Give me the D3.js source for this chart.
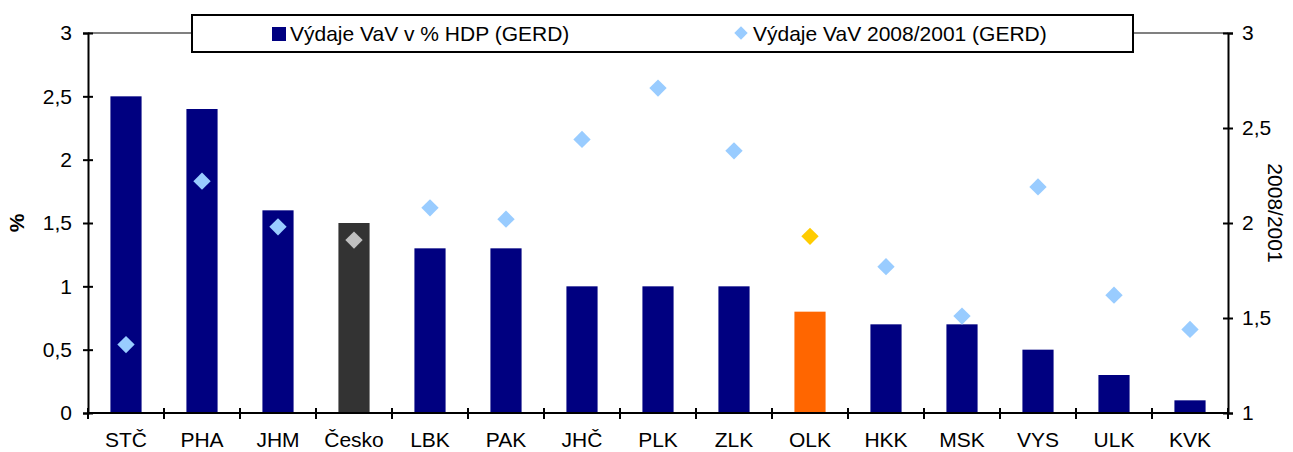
<!DOCTYPE html>
<html>
<head>
<meta charset="utf-8">
<script src="https://cdn.jsdelivr.net/npm/d3@7"></script>
<style>
  html, body { margin: 0; padding: 0; background: #fff; }
  svg { display: block; font-family: "Liberation Sans", Arial, sans-serif; }
</style>
</head>
<body>
<svg id="chart" width="1293" height="452"></svg>
<script>
// Regions (NUTS 3) of the Czech Republic
const regions = ["STČ", "PHA", "JHM", "Česko", "LBK", "PAK", "JHČ", "PLK", "ZLK", "OLK", "HKK", "MSK", "VYS", "ULK", "KVK"];
// R&D expenditure as % of GDP (GERD)
const gerdShare = [2.5, 2.4, 1.6, 1.5, 1.3, 1.3, 1.0, 1.0, 1.0, 0.8, 0.7, 0.7, 0.5, 0.3, 0.1];
// Index of R&D expenditure 2008/2001 (GERD)
const gerdIndex = [1.36, 2.22, 1.98, 1.91, 2.08, 2.02, 2.44, 2.71, 2.38, 1.93, 1.77, 1.51, 2.19, 1.62, 1.44];

const leftTicks = [0, 0.5, 1, 1.5, 2, 2.5, 3];
const rightTicks = [1, 1.5, 2, 2.5, 3];
const legendLabels = ["Výdaje VaV v % HDP (GERD)", "Výdaje VaV 2008/2001 (GERD)"];

const FONT = "21px";
const barColor = d => d === "Česko" ? "#333333" : d === "OLK" ? "#FF6600" : "#000080";
const markColor = d => d === "Česko" ? "#C0C0C0" : d === "OLK" ? "#FFCC00" : "#99CCFF";

const svg = d3.select("#chart");
const plot = { left: 88, right: 1228, top: 33, bottom: 413 };

const x = d3.scaleBand().domain(regions).range([plot.left, plot.right]).paddingInner(0.59).paddingOuter(0.295);
const xTickScale = d3.scaleBand().domain(regions).range([plot.left, plot.right]);
const yL = d3.scaleLinear().domain([0, 3]).range([plot.bottom, plot.top]);
const yR = d3.scaleLinear().domain([1, 3]).range([plot.bottom, plot.top]);

const fmt = v => String(v).replace(".", ",");

// plot area top border
svg.append("line")
  .attr("x1", plot.left).attr("x2", plot.right)
  .attr("y1", plot.top).attr("y2", plot.top)
  .attr("stroke", "#808080").attr("stroke-width", 2);

// bars
svg.append("g").selectAll("rect").data(regions).join("rect")
  .attr("x", d => x(d))
  .attr("width", x.bandwidth())
  .attr("y", (d, i) => yL(gerdShare[i]))
  .attr("height", (d, i) => yL(0) - yL(gerdShare[i]))
  .attr("fill", barColor);

// diamonds
const diamond = d3.symbol().type(d3.symbolSquare).size(150);
svg.append("g").selectAll("path").data(regions).join("path")
  .attr("d", diamond)
  .attr("transform", (d, i) => `translate(${x(d) + x.bandwidth() / 2},${yR(gerdIndex[i])}) rotate(45)`)
  .attr("fill", markColor);

const axisStyle = g => {
  g.select(".domain").attr("stroke", "#000").attr("stroke-width", 2);
  g.selectAll(".tick line").attr("stroke", "#000").attr("stroke-width", 2);
  g.selectAll(".tick text").attr("fill", "#000").style("font-size", FONT)
    .style("font-family", "'Liberation Sans', Arial, sans-serif");
};

// left axis
const gL = svg.append("g").attr("transform", `translate(${plot.left},0)`)
  .call(d3.axisLeft(yL).tickValues(leftTicks).tickFormat(fmt).tickSizeOuter(0).tickSize(5).tickPadding(11));
axisStyle(gL);
gL.selectAll(".tick line").attr("x1", -5).attr("x2", 5);

// right axis
const gR = svg.append("g").attr("transform", `translate(${plot.right},0)`)
  .call(d3.axisRight(yR).tickValues(rightTicks).tickFormat(fmt).tickSizeOuter(0).tickSize(5).tickPadding(9));
axisStyle(gR);
gR.selectAll(".tick line").attr("x1", -5).attr("x2", 5);

// category axis: ticks at band boundaries, labels at band centres
const gB = svg.append("g").attr("transform", `translate(0,${plot.bottom})`)
  .call(d3.axisBottom(x).tickSizeOuter(0).tickSize(0).tickPadding(19));
axisStyle(gB);
gB.select(".domain").attr("d", `M${plot.left},0H${plot.right}`);
gB.selectAll(".tick line").remove();
const boundaries = regions.map(r => xTickScale(r)).concat([plot.right]);
gB.append("g").selectAll("line").data(boundaries).join("line")
  .attr("x1", d => d).attr("x2", d => d).attr("y1", -5).attr("y2", 6)
  .attr("stroke", "#000").attr("stroke-width", 2);

// axis titles
svg.append("text")
  .attr("transform", `translate(24,${(plot.top + plot.bottom) / 2}) rotate(-90)`)
  .attr("text-anchor", "middle").style("font-size", FONT).style("font-weight", "bold")
  .text("%");
svg.append("text")
  .attr("transform", `translate(1268,${(plot.top + plot.bottom) / 2 - 10}) rotate(90)`)
  .attr("text-anchor", "middle").style("font-size", FONT)
  .text("2008/2001");

// legend
const lg = svg.append("g");
lg.append("rect").attr("x", 192).attr("y", 15).attr("width", 941).attr("height", 37)
  .attr("fill", "#fff").attr("stroke", "#000").attr("stroke-width", 2);
lg.append("rect").attr("x", 272).attr("y", 27).attr("width", 14).attr("height", 14).attr("fill", "#000080");
lg.append("text").attr("x", 290).attr("y", 41).style("font-size", FONT).text(legendLabels[0]);
lg.append("path").attr("d", d3.symbol().type(d3.symbolSquare).size(90))
  .attr("transform", "translate(741,33) rotate(45)").attr("fill", "#99CCFF");
lg.append("text").attr("x", 753).attr("y", 41).style("font-size", FONT).text(legendLabels[1]);
</script>
</body>
</html>
